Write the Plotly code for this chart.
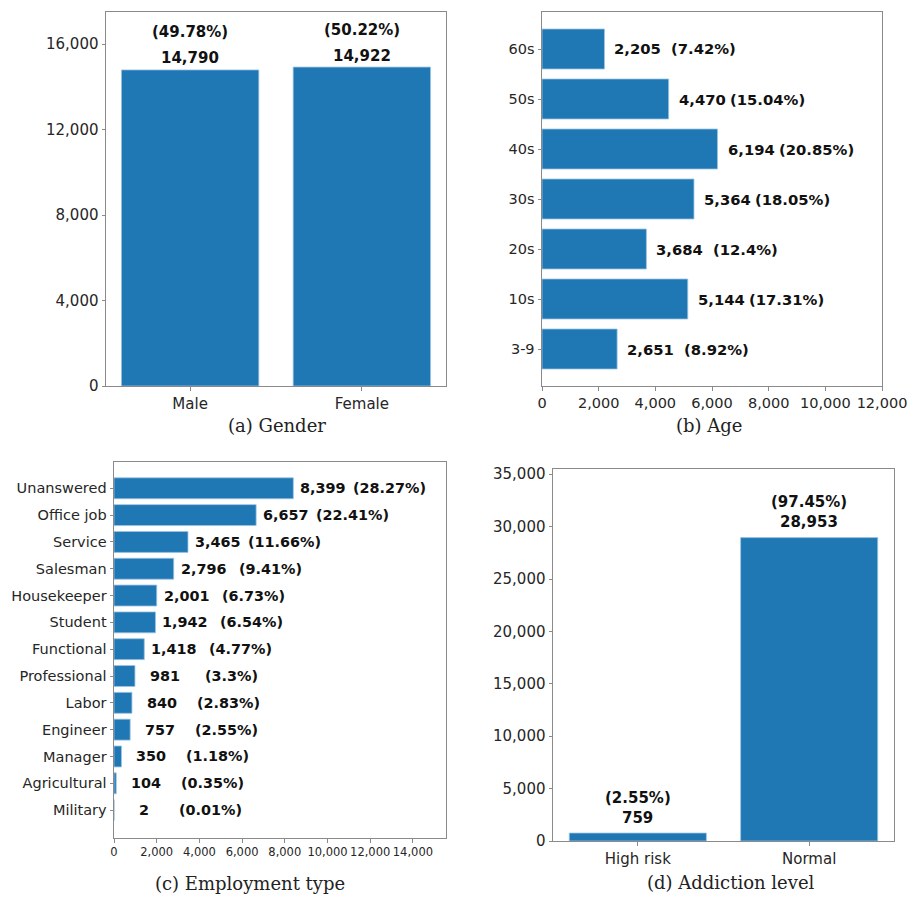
import plotly.graph_objects as go

# ---------------- data ----------------
gender_cats = ["Male", "Female"]
gender_vals = [14790, 14922]
gender_pct = ["49.78", "50.22"]

age_cats = ["3-9", "10s", "20s", "30s", "40s", "50s", "60s"]
age_vals = [2651, 5144, 3684, 5364, 6194, 4470, 2205]
age_pct = ["8.92", "17.31", "12.4", "18.05", "20.85", "15.04", "7.42"]

job_cats = ["Military", "Agricultural", "Manager", "Engineer", "Labor", "Professional",
            "Functional", "Student", "Housekeeper", "Salesman", "Service", "Office job", "Unanswered"]
job_vals = [2, 104, 350, 757, 840, 981, 1418, 1942, 2001, 2796, 3465, 6657, 8399]
job_pct = ["0.01", "0.35", "1.18", "2.55", "2.83", "3.3", "4.77", "6.54", "6.73", "9.41",
           "11.66", "22.41", "28.27"]

add_cats = ["High risk", "Normal"]
add_vals = [759, 28953]
add_pct = ["2.55", "97.45"]

captions = ["(a) Gender", "(b) Age", "(c) Employment type", "(d) Addiction level"]

# ---------------- layout helpers ----------------
W, H = 911, 897
BAR = "#1f77b4"
EDGE = "#9cc3e3"
TICKFONT = dict(family="DejaVu Sans", size=15, color="#262626")
LBLFONT = dict(family="DejaVu Sans", size=15, color="#111111")


def xd(l, r):
    return [l / W, r / W]


def yd(t, b):
    return [1 - b / H, 1 - t / H]


def fmt(v):
    return f"{v:,}"


fig = go.Figure()

axis_common = dict(showline=True, linecolor="#8a8a8a", linewidth=1, mirror=True,
                   ticks="outside", ticklen=3.5, tickcolor="#8a8a8a", showgrid=False,
                   zeroline=False, tickfont=TICKFONT, automargin=False)

# (a) Gender
fig.add_trace(go.Bar(x=gender_cats, y=gender_vals, width=0.8, marker=dict(color=BAR, line=dict(color=EDGE, width=0.8)),
                     xaxis="x", yaxis="y", showlegend=False, hoverinfo="skip"))
# (b) Age
fig.add_trace(go.Bar(y=age_cats, x=age_vals, orientation="h", width=0.8,
                     marker=dict(color=BAR, line=dict(color=EDGE, width=0.8)),
                     xaxis="x2", yaxis="y2", showlegend=False, hoverinfo="skip"))
# (c) Employment
fig.add_trace(go.Bar(y=job_cats, x=job_vals, orientation="h", width=0.78,
                     marker=dict(color=BAR, line=dict(color=EDGE, width=0.8)),
                     xaxis="x3", yaxis="y3", showlegend=False, hoverinfo="skip"))
# (d) Addiction
fig.add_trace(go.Bar(x=add_cats, y=add_vals, width=0.8, marker=dict(color=BAR, line=dict(color=EDGE, width=0.8)),
                     xaxis="x4", yaxis="y4", showlegend=False, hoverinfo="skip"))

ann = []
# (a) labels
for c, v, p in zip(gender_cats, gender_vals, gender_pct):
    ann.append(dict(x=c, y=v, xref="x", yref="y", text=f"<b>{fmt(v)}</b>", showarrow=False,
                    yanchor="middle", yshift=11.5, font=LBLFONT))
    ann.append(dict(x=c, y=v, xref="x", yref="y", text=f"<b>({p}%)</b>", showarrow=False,
                    yanchor="middle", yshift=37.5, font=LBLFONT))
# (b) labels
for c, v, p in zip(age_cats, age_vals, age_pct):
    ann.append(dict(x=v, y=c, xref="x2", yref="y2", text=f"<b>{fmt(v)}</b>", showarrow=False,
                    xanchor="center", xshift=33.5, font=dict(LBLFONT, size=14.8)))
    ann.append(dict(x=v, y=c, xref="x2", yref="y2", text=f"<b>({p}%)</b>", showarrow=False,
                    xanchor="center", xshift=99, font=dict(LBLFONT, size=14.8)))
# (c) labels
for c, v, p in zip(job_cats, job_vals, job_pct):
    ann.append(dict(x=v, y=c, xref="x3", yref="y3", text=f"<b>{fmt(v)}</b>", showarrow=False,
                    xanchor="center", xshift=30, font=dict(LBLFONT, size=14.4)))
    ann.append(dict(x=v, y=c, xref="x3", yref="y3", text=f"<b>({p}%)</b>", showarrow=False,
                    xanchor="center", xshift=96.5, font=dict(LBLFONT, size=14.4)))
# (d) labels
for c, v, p in zip(add_cats, add_vals, add_pct):
    ann.append(dict(x=c, y=v, xref="x4", yref="y4", text=f"<b>{fmt(v)}</b>", showarrow=False,
                    yanchor="middle", yshift=15.5, font=LBLFONT))
    ann.append(dict(x=c, y=v, xref="x4", yref="y4", text=f"<b>({p}%)</b>", showarrow=False,
                    yanchor="middle", yshift=35.5, font=LBLFONT))

# captions
cap_pos = [(277, 425), (709, 425), (250, 883), (731, 882)]
for t, (cx, cy) in zip(captions, cap_pos):
    ann.append(dict(x=cx / W, y=1 - cy / H, xref="paper", yref="paper", text=t, showarrow=False,
                    xanchor="center", yanchor="middle",
                    font=dict(family="DejaVu Serif", size=18, color="#222222")))

fig.update_layout(
    width=W, height=H, margin=dict(l=0, r=0, t=0, b=0, autoexpand=False),
    paper_bgcolor="white", plot_bgcolor="white", bargap=0.2,
    annotations=ann,
    xaxis=dict(axis_common, domain=xd(106, 446), anchor="y", range=[-0.49, 1.49]),
    yaxis=dict(axis_common, domain=yd(12, 386), anchor="x", range=[0, 17500],
               tickvals=[0, 4000, 8000, 12000, 16000], tickformat=",d"),
    xaxis2=dict(axis_common, domain=xd(542, 882), anchor="y2", range=[0, 12000],
                tickvals=list(range(0, 12001, 2000)), tickformat=",d", tickfont=dict(TICKFONT, size=14.5)),
    yaxis2=dict(axis_common, domain=yd(12, 386), anchor="x2", range=[-0.74, 6.74],
                tickfont=dict(TICKFONT, size=14.5)),
    xaxis3=dict(axis_common, domain=xd(114, 446), anchor="y3", range=[0, 15550],
                tickvals=list(range(0, 14001, 2000)), tickformat=",d", tickangle=0,
                tickfont=dict(family="DejaVu Sans", size=11.5, color="#262626")),
    yaxis3=dict(axis_common, domain=yd(462, 838), anchor="x3", range=[-1.04, 12.98],
                tickfont=dict(TICKFONT, size=14.5)),
    xaxis4=dict(axis_common, domain=xd(553, 894), anchor="y4", range=[-0.495, 1.495]),
    yaxis4=dict(axis_common, domain=yd(469, 841), anchor="x4", range=[0, 35500],
                tickvals=list(range(0, 35001, 5000)), tickformat=",d"),
)

fig.write_html("out.html")
